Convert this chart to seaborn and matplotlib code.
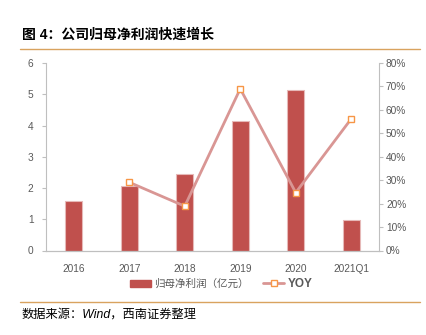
import matplotlib
matplotlib.use("Agg")
import matplotlib.pyplot as plt
from matplotlib.lines import Line2D
from matplotlib.patches import Patch
from matplotlib.ticker import FuncFormatter, MultipleLocator
import seaborn as sns
import pandas as pd

categories = ["2016", "2017", "2018", "2019", "2020", "2021Q1"]
profit = [1.60, 2.06, 2.44, 4.13, 5.14, 0.99]
yoy_categories = ["2017", "2018", "2019", "2020", "2021Q1"]
yoy = [29.1, 18.9, 69.0, 24.7, 56.2]
title = "图 4：公司归母净利润快速增长"
bar_label = "归母净利润（亿元）"
line_label = "YOY"
source = "数据来源：Wind，西南证券整理"

sns.set_style("white")
plt.rcParams["font.family"] = ["Liberation Sans", "Noto Sans CJK SC", "DejaVu Sans"]

W, H = 426, 335
fig = plt.figure(figsize=(W / 100, H / 100), dpi=100)
ax = fig.add_axes([46 / W, 1 - 250.5 / H, (379 - 46) / W, (250.5 - 63) / H])

bar_color = "#C0504D"
line_color = "#D99694"
marker_edge = "#F79646"
grey = "#595959"
spine_grey = "#BFBFBF"

df_bar = pd.DataFrame({"cat": categories, "val": profit})
sns.barplot(data=df_bar, x="cat", y="val", color=bar_color, width=0.31,
            saturation=1, edgecolor="#E6B9B8", linewidth=0.8, ax=ax)
ax.set_ylim(0, 6)
ax.set_xlim(-0.5, len(categories) - 0.5)
ax.yaxis.set_major_locator(MultipleLocator(1))
ax.set_xlabel("")
ax.set_ylabel("")

ax2 = ax.twinx()
df_line = pd.DataFrame({"x": [categories.index(c) for c in yoy_categories], "y": yoy})
sns.lineplot(data=df_line, x="x", y="y", color=line_color, linewidth=2.0,
             marker="s", markersize=5, markerfacecolor="white",
             markeredgecolor=marker_edge, markeredgewidth=1.0, ax=ax2)
ax2.set_ylim(0, 80)
ax2.yaxis.set_major_locator(MultipleLocator(10))
ax2.yaxis.set_major_formatter(FuncFormatter(lambda v, p: f"{v:.0f}%"))
ax2.set_xlabel("")
ax2.set_ylabel("")
ax.set_xlim(-0.5, len(categories) - 0.5)

for a in (ax, ax2):
    a.spines["top"].set_visible(False)
    for s in ("left", "right", "bottom"):
        a.spines[s].set_color(spine_grey)
        a.spines[s].set_linewidth(0.8)
ax.spines["right"].set_visible(False)
ax2.spines["left"].set_visible(False)

ax.tick_params(axis="y", left=True, length=3, width=0.8, color=spine_grey,
               labelsize=7.3, labelcolor=grey, pad=6)
ax.tick_params(axis="x", bottom=False, labelsize=7.3, labelcolor=grey, pad=6)
ax2.tick_params(axis="y", right=True, length=3, width=0.8, color=spine_grey,
                labelsize=7.3, labelcolor=grey, pad=2)

handles = [Patch(facecolor=bar_color, edgecolor=bar_color),
           Line2D([0], [0], color=line_color, linewidth=2, marker="s", markersize=5,
                  markerfacecolor="white", markeredgecolor=marker_edge)]
leg = fig.legend(handles, [bar_label, line_label], loc="center",
                 bbox_to_anchor=(221 / W, 1 - 284 / H), ncol=2, frameon=False,
                 fontsize=7.6, handlelength=2.0, handleheight=0.6, columnspacing=1.4,
                 handletextpad=0.3)
for t in leg.get_texts():
    t.set_color(grey)
leg.get_texts()[1].set_fontweight("bold")
leg.get_texts()[1].set_fontsize(8.5)

fig.text(22 / W, 1 - 35 / H, title, fontsize=10, fontweight="bold",
         va="center", ha="left", color="black")
rule_color = "#D9A35F"
fig.add_artist(Line2D([20 / W, 420 / W], [1 - 49 / H, 1 - 49 / H],
                      color=rule_color, linewidth=1.0))
fig.add_artist(Line2D([20 / W, 420 / W], [1 - 302 / H, 1 - 302 / H],
                      color=rule_color, linewidth=1.0))
fig.text(22 / W, 1 - 315 / H, source, fontsize=8.8, fontstyle="italic",
         va="center", ha="left", color="black")

fig.savefig("out.png", dpi=100, facecolor="white")
